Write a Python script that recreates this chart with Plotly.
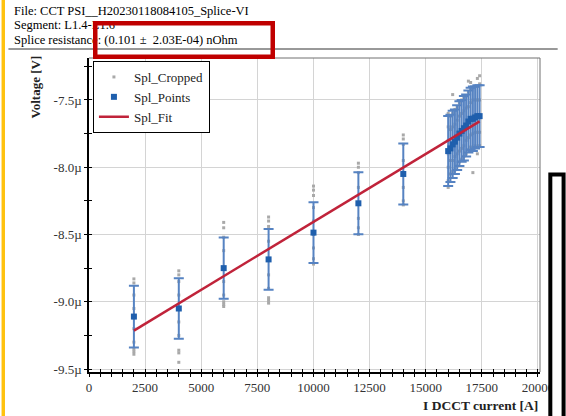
import plotly.graph_objects as go

# ---------------- data ----------------
point_current = [2000, 4000, 6000, 8000, 10000, 12000, 14000,
                 16000, 16100, 16200, 16300, 16400, 16500, 16600, 16700,
                 16800, 16900, 17000, 17100, 17200, 17300, 17400]
point_voltage_uV = [-9.11, -9.05, -8.75, -8.685, -8.486, -8.268, -8.05,
                    -7.88, -7.86, -7.83, -7.81, -7.78, -7.75, -7.73, -7.71,
                    -7.69, -7.66, -7.64, -7.64, -7.63, -7.62, -7.62]
point_error_uV = [0.23, 0.225, 0.228, 0.226, 0.226, 0.23, 0.227,
                  0.26, 0.25, 0.25, 0.24, 0.24, 0.24, 0.23, 0.24,
                  0.23, 0.23, 0.23, 0.24, 0.23, 0.23, 0.23]

cropped_by_current = {
    2000: [-8.83, -8.86, -8.95, -9.05, -9.12, -9.2, -9.3, -9.35, -9.37, -9.39],
    4000: [-8.77, -8.80, -8.85, -8.95, -9.05, -9.15, -9.25, -9.36, -9.38, -9.45],
    6000: [-8.41, -8.45, -8.52, -8.62, -8.75, -8.85, -8.95, -9.0, -9.02, -9.035],
    8000: [-8.37, -8.40, -8.44, -8.55, -8.68, -8.8, -8.9, -8.97, -8.99, -9.01],
    10000: [-8.14, -8.17, -8.21, -8.3, -8.4, -8.5, -8.6, -8.68, -8.72],
    12000: [-7.97, -8.0, -8.04, -8.15, -8.27, -8.38, -8.45, -8.5],
    14000: [-7.76, -7.79, -7.83, -7.95, -8.05, -8.15, -8.25, -8.28],
    16000: [-7.6, -7.7, -7.8, -7.9, -8.0, -8.1, -8.15],
    16100: [-7.62, -7.72, -7.85, -7.95, -8.05],
    16200: [-7.46, -7.6, -7.7, -7.82, -7.95, -8.03],
    16300: [-7.57, -7.68, -7.8, -7.92, -8.02],
    16400: [-7.55, -7.65, -7.78, -7.9, -7.99],
    16500: [-7.52, -7.62, -7.75, -7.88, -7.96],
    16600: [-7.5, -7.6, -7.73, -7.86, -7.94],
    16700: [-7.48, -7.58, -7.7, -7.84, -7.92],
    16800: [-7.47, -7.56, -7.68, -7.8, -7.9],
    16900: [-7.36, -7.44, -7.55, -7.66, -7.78, -7.87],
    17000: [-7.37, -7.42, -7.52, -7.64, -7.76, -7.85],
    17100: [-7.41, -7.5, -7.62, -7.75, -7.86, -8.04],
    17200: [-7.4, -7.5, -7.62, -7.74, -7.84],
    17300: [-7.34, -7.4, -7.5, -7.62, -7.74, -7.85, -7.9],
    17400: [-7.32, -7.38, -7.5, -7.62, -7.74, -7.84],
}

fit_resistance_nOhm = 0.101
fit_offset_uV = -9.416
fit_current_span = [2000, 17400]

x_tick_vals = [0, 2500, 5000, 7500, 10000, 12500, 15000, 17500, 20000]
x_tick_labels = ["0", "2500", "5000", "7500", "10000", "12500", "15000", "17500", "20000"]
y_tick_vals = [-9.5, -9.0, -8.5, -8.0, -7.5]
y_tick_labels = ["-9.5µ", "-9.0µ", "-8.5µ", "-8.0µ", "-7.5µ"]

header_lines = ["File: CCT PSI__H20230118084105_Splice-VI",
                "Segment: L1.4-L1.6",
                "Splice resistance: (0.101 ±\u00a0 2.03E-04) nOhm"]

# ---------------- build ----------------
cropped_current = []
cropped_voltage = []
for cur, vals in cropped_by_current.items():
    for v in vals:
        cropped_current.append(cur)
        cropped_voltage.append(v)

fit_voltage = [fit_offset_uV + fit_resistance_nOhm * c / 1000.0 for c in fit_current_span]

W, H = 566, 416
ML, MR, MT, MB = 89, 18, 58, 44
PW, PH = W - ML - MR, H - MT - MB


def px(x):
    return (x - ML) / PW


def py(y):
    return 1 - (y - MT) / PH


SERIF = "Liberation Serif, Times New Roman, serif"

fig = go.Figure()
fig.add_trace(go.Scatter(
    x=cropped_current, y=cropped_voltage, mode="markers", name="Spl_Cropped",
    marker=dict(symbol="square", size=3, color="#a9a9a9"),
    hoverinfo="skip"))
fig.add_trace(go.Scatter(
    x=point_current, y=point_voltage_uV, mode="markers", name="Spl_Points",
    marker=dict(symbol="square", size=6, color="#1f5fad"),
    error_y=dict(type="data", array=point_error_uV, color="#5683c2",
                 thickness=2, width=5)))
fig.add_trace(go.Scatter(
    x=fit_current_span, y=fit_voltage, mode="lines", name="Spl_Fit",
    line=dict(color="#c0233a", width=2.5)))
# dummy trace for overlay axes (inner half of crossing ticks)
fig.add_trace(go.Scatter(x=[None], y=[None], xaxis="x2", yaxis="y2",
                         showlegend=False, hoverinfo="skip"))

xr = [0, 20090]
yr = [-9.522, -7.188]

fig.update_layout(
    width=W, height=H, autosize=False,
    margin=dict(l=ML, r=MR, t=MT, b=MB, pad=0),
    paper_bgcolor="white", plot_bgcolor="white",
    font=dict(family=SERIF, size=13, color="#222"),
    showlegend=True,
    legend=dict(x=px(93), y=py(61), xanchor="left", yanchor="top",
                bgcolor="white", bordercolor="black", borderwidth=1,
                font=dict(family=SERIF, size=13, color="#222"),
                itemwidth=30, tracegroupgap=0),
    xaxis=dict(range=xr, tickmode="array", tickvals=x_tick_vals, ticktext=x_tick_labels,
               showgrid=True, gridcolor="#d4d4d4", gridwidth=1, zeroline=False,
               showline=True, linecolor="black", linewidth=1.5,
               ticks="outside", ticklen=3, tickcolor="black",
               minor=dict(tickmode="linear", tick0=0, dtick=500, ticks="outside",
                          ticklen=3, tickcolor="black", showgrid=False),
               tickfont=dict(family=SERIF, size=13, color="#333")),
    yaxis=dict(range=yr, tickmode="array", tickvals=y_tick_vals, ticktext=y_tick_labels,
               showgrid=True, gridcolor="#d4d4d4", gridwidth=1, zeroline=False,
               showline=True, linecolor="black", linewidth=1.5,
               ticks="outside", ticklen=3, tickcolor="black",
               minor=dict(tickmode="linear", tick0=-9.5, dtick=0.25, ticks="outside",
                          ticklen=3, tickcolor="black", showgrid=False),
               tickfont=dict(family=SERIF, size=13, color="#333")),
    xaxis2=dict(range=xr, overlaying="x", anchor="y2", showticklabels=False,
                showgrid=False, zeroline=False, showline=False,
                tickmode="array", tickvals=x_tick_vals,
                ticks="inside", ticklen=3, tickcolor="black",
                minor=dict(tickmode="linear", tick0=0, dtick=500, ticks="inside",
                           ticklen=3, tickcolor="black", showgrid=False)),
    yaxis2=dict(range=yr, overlaying="y", anchor="x2", showticklabels=False,
                showgrid=False, zeroline=False, showline=False,
                tickmode="array", tickvals=y_tick_vals,
                ticks="inside", ticklen=3, tickcolor="black",
                minor=dict(tickmode="linear", tick0=-9.5, dtick=0.25, ticks="inside",
                           ticklen=3, tickcolor="black", showgrid=False)),
)

shapes = [
    # gray frame top/right
    dict(type="line", xref="paper", yref="paper", x0=0, x1=1, y0=1, y1=1,
         line=dict(color="#707070", width=1)),
    dict(type="line", xref="paper", yref="paper", x0=1, x1=1, y0=0, y1=1,
         line=dict(color="#707070", width=1)),
    # header separator line
    dict(type="line", xref="paper", yref="paper", x0=px(7), x1=px(566), y0=py(49), y1=py(49),
         line=dict(color="#333", width=1)),
    # yellow side bar
    dict(type="rect", xref="paper", yref="paper", x0=px(0), x1=px(3.5), y0=py(416), y1=py(0),
         fillcolor="#FFC20E", line=dict(width=0), layer="above"),
    # black box on the right
    dict(type="rect", xref="paper", yref="paper", x0=px(558.5), x1=px(572), y0=py(422), y1=py(174.5),
         fillcolor="white", line=dict(color="black", width=4), layer="above"),
]
fig.update_layout(shapes=shapes)

annotations = []
for txt, yc in zip(header_lines, [11, 25.5, 40]):
    annotations.append(dict(text=txt, xref="paper", yref="paper", x=px(11), y=py(yc),
                            xanchor="left", yanchor="middle", showarrow=False,
                            font=dict(family=SERIF, size=12.5, color="black")))
# red highlight box
annotations.append(dict(text=" ", xref="paper", yref="paper", x=px(185.3), y=py(40.2),
                        xanchor="center", yanchor="middle", showarrow=False,
                        width=173, height=29, borderpad=0,
                        bordercolor="#c00000", borderwidth=4.5, bgcolor="rgba(0,0,0,0)"))
# axis titles
annotations.append(dict(text="<b>Voltage [V]</b>", xref="paper", yref="paper",
                        x=px(35), y=py(86.5), xanchor="center", yanchor="middle",
                        textangle=-90, showarrow=False,
                        font=dict(family=SERIF, size=13, color="#222")))
annotations.append(dict(text="<b>I DCCT current [A]</b>", xref="paper", yref="paper",
                        x=px(547.5), y=py(405), xanchor="right", yanchor="middle",
                        showarrow=False, font=dict(family=SERIF, size=13.5, color="#222")))
fig.update_layout(annotations=annotations)

fig.write_html("out.html", config={"displayModeBar": False},
               post_script="document.body.style.margin='0';")
